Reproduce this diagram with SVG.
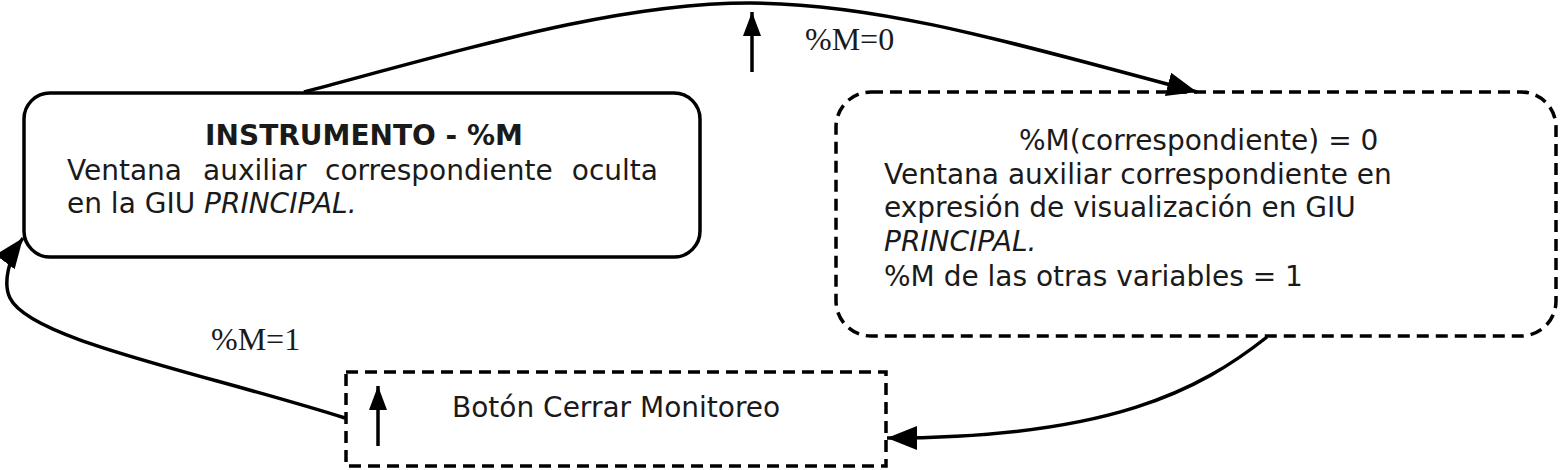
<svg xmlns="http://www.w3.org/2000/svg" width="1560" height="470" viewBox="0 0 1560 470">
<style>
.box{fill:#fff;stroke:#000;stroke-width:3.5}
.dash{stroke-dasharray:12 7}
.t{font-family:"DejaVu Sans","Verdana",sans-serif;font-size:28px;fill:#1a1a1a}
.b{font-weight:bold}
.i{font-style:italic}
.lbl{font-family:"Liberation Serif","Times New Roman",serif;font-size:32px;fill:#1a1a1a}
.con{fill:none;stroke:#000;stroke-width:3.5}
</style>
<defs>
<marker id="ah" markerUnits="userSpaceOnUse" markerWidth="32" markerHeight="26" refX="30" refY="12" orient="auto" viewBox="0 0 32 26">
<path d="M0,0 L30,12 L0,24 z" fill="#000"/>
</marker>
<marker id="sa" markerUnits="userSpaceOnUse" markerWidth="26" markerHeight="20" refX="24" refY="9" orient="auto" viewBox="0 0 26 20">
<path d="M0,0 L24,9 L0,18 z" fill="#000"/>
</marker>
</defs>
<g id="node-instrumento">
<rect class="box" x="24" y="93" width="676" height="164" rx="26" ry="26"/>
<text class="t b" x="364" y="145" text-anchor="middle">INSTRUMENTO - %M</text>
<text class="t" x="67" y="180">Ventana</text>
<text class="t" x="203" y="180">auxiliar</text>
<text class="t" x="325" y="180">correspondiente</text>
<text class="t" x="658" y="180" text-anchor="end">oculta</text>
<text class="t" x="67" y="213">en la GIU <tspan class="i">PRINCIPAL.</tspan></text>
</g>
<g id="node-correspondiente">
<rect class="box dash" x="836" y="92" width="720" height="244" rx="35" ry="35"/>
<text class="t" x="1019" y="150">%M(correspondiente) = 0</text>
<text class="t" x="884" y="184">Ventana auxiliar correspondiente en</text>
<text class="t" x="884" y="217">expresión de visualización en GIU</text>
<text class="t i" x="884" y="251">PRINCIPAL.</text>
<text class="t" x="884" y="286">%M de las otras variables = 1</text>
</g>
<g id="node-boton">
<rect class="box dash" x="346" y="372" width="540" height="94"/>
<text class="t" x="452" y="417">Botón Cerrar Monitoreo</text>
</g>
<g id="connectors">
<path class="con" d="M304 92 C480 45 620 3 750 3 C880 3 1020 45 1197 92" marker-end="url(#ah)"/>
<path class="con" d="M1267 337 C1200 390 1110 438 887 438" marker-end="url(#ah)"/>
<path class="con" d="M345 418 C200 372 30 340 10 298 C3 284 8 258 23 238" marker-end="url(#ah)"/>
<path class="con" d="M752 72 L752 12" marker-end="url(#sa)"/>
<path class="con" d="M378 446 L378 386" marker-end="url(#sa)"/>
<text class="lbl" x="805" y="50">%M=0</text>
<text class="lbl" x="211" y="350">%M=1</text>
</g>
</svg>
